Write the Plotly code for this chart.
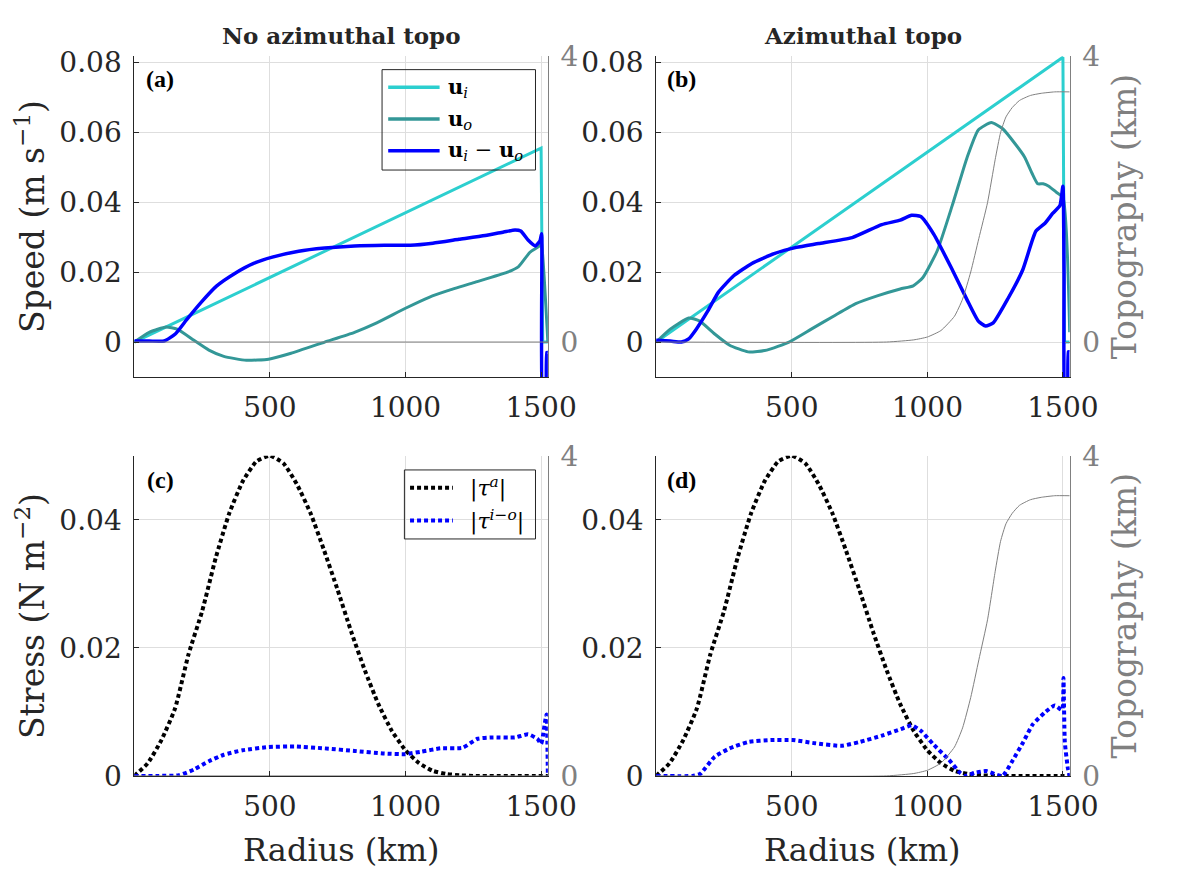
import plotly.graph_objects as go

# ---------------- data (radius in km) ----------------
# (a) no azimuthal topography: speeds in m/s
R_UI_FLAT = [0, 1500, 1506, 1525]
UI_FLAT = [0.0, 0.0555, 0.0, 0.0]

R_UO_FLAT = [0, 55, 117, 158, 220, 275, 330, 413, 495, 578, 702, 812, 894, 998,
             1087, 1156, 1252, 1376, 1417, 1459, 1493, 1500, 1525]
UO_FLAT = [0.0, 0.0028, 0.0043, 0.0037, 0.0005, -0.0023, -0.0041, -0.0052, -0.0049,
           -0.0032, 0.0, 0.0028, 0.0055, 0.0096, 0.0128, 0.0147, 0.0170, 0.0200,
           0.0216, 0.0257, 0.0275, 0.0290, 0.0]

R_DU_FLAT = [0, 55, 110, 151, 193, 248, 303, 372, 440, 509, 606, 702, 812, 922, 1018,
             1101, 1197, 1294, 1362, 1404, 1425, 1452, 1479, 1496, 1502, 1507, 1516,
             1521, 1525]
DU_FLAT = [0.0003, 0.0003, 0.0003, 0.0023, 0.0064, 0.0115, 0.0160, 0.0197, 0.0225,
           0.0243, 0.0260, 0.0269, 0.0275, 0.0277, 0.0277, 0.0283, 0.0294, 0.0305,
           0.0315, 0.0321, 0.0318, 0.0292, 0.0275, 0.0290, 0.0310, -0.0200, -0.0200,
           -0.0030, -0.0030]

# (b) azimuthal topography: speeds in m/s
R_UI_TOPO = [0, 1500, 1506, 1525]
UI_TOPO = [0.0, 0.0815, 0.0, 0.0]

R_UO_TOPO = [0, 52, 120, 161, 216, 271, 339, 408, 490, 572, 654, 736, 818, 900, 948,
             983, 1037, 1092, 1147, 1188, 1236, 1277, 1325, 1359, 1386, 1407, 1427,
             1448, 1475, 1500, 1525]
UO_TOPO = [0.0, 0.0037, 0.0069, 0.0060, 0.0023, -0.0009, -0.0028, -0.0023, 0.0,
           0.0037, 0.0074, 0.0110, 0.0133, 0.0152, 0.0161, 0.0184, 0.0262, 0.0391,
           0.0529, 0.0607, 0.0628, 0.0611, 0.0566, 0.0529, 0.0483, 0.0453, 0.0453,
           0.0446, 0.0429, 0.0414, 0.0028]

R_DU_TOPO = [0, 52, 93, 120, 148, 189, 230, 285, 353, 435, 517, 599, 723, 832, 900,
             942, 976, 1024, 1092, 1147, 1188, 1215, 1243, 1297, 1352, 1400, 1434,
             1462, 1489, 1500, 1504, 1509, 1516, 1520, 1525]
DU_TOPO = [0.0005, 0.0003, 0.0, 0.0009, 0.0037, 0.0087, 0.0143, 0.0189, 0.0225,
           0.0253, 0.0271, 0.0282, 0.0299, 0.0336, 0.0349, 0.0363, 0.0359, 0.0308,
           0.0207, 0.0120, 0.0060, 0.0046, 0.0055, 0.0124, 0.0207, 0.0317, 0.0340,
           0.0368, 0.0391, 0.0446, 0.0200, -0.0200, -0.0200, -0.0028, -0.0028]

# topography (km)
R_TOPO_FLAT = [0, 1525]
TOPO_FLAT = [0.0, 0.0]

R_TOPO = [0, 850, 950, 1000, 1050, 1100, 1130, 1160, 1190, 1222, 1250, 1270, 1290,
          1313, 1340, 1380, 1420, 1470, 1525]
TOPO = [0.0, 0.0, 0.03, 0.07, 0.16, 0.36, 0.60, 0.98, 1.45, 1.95, 2.55, 2.93, 3.15,
        3.28, 3.38, 3.45, 3.48, 3.50, 3.50]

# stresses (N/m^2)
R_TAU_A = [0, 50, 100, 150, 200, 250, 300, 350, 400, 450, 500, 550, 600, 650, 700,
           750, 800, 850, 900, 950, 1000, 1050, 1100, 1150, 1200, 1250, 1525]
TAU_A = [0.0, 0.0020, 0.0056, 0.0105, 0.0190, 0.0257, 0.0340, 0.0410, 0.0460, 0.0491,
         0.0500, 0.0488, 0.0455, 0.0410, 0.0352, 0.0290, 0.0225, 0.0165, 0.0112,
         0.0070, 0.0040, 0.0020, 0.0008, 0.0003, 0.0001, 0.0, 0.0]

R_TAU_IO_FLAT = [0, 83, 165, 220, 275, 330, 399, 495, 592, 702, 812, 922, 998, 1060,
                 1128, 1211, 1266, 1321, 1404, 1452, 1486, 1500, 1507, 1514, 1520, 1525]
TAU_IO_FLAT = [0.0, 0.0, 0.0001, 0.0010, 0.0023, 0.0033, 0.0040, 0.0045, 0.0046,
               0.0043, 0.0039, 0.0035, 0.0034, 0.0038, 0.0043, 0.0044, 0.0058, 0.0060,
               0.0060, 0.0065, 0.0058, 0.0050, 0.0063, 0.0083, 0.0096, 0.0]

R_TAU_IO_TOPO = [0, 134, 162, 216, 271, 340, 422, 504, 586, 682, 751, 833, 902, 943,
                 977, 1025, 1080, 1121, 1141, 1176, 1217, 1258, 1278, 1313, 1354, 1388,
                 1436, 1470, 1497, 1502, 1507, 1518, 1525]
TAU_IO_TOPO = [0.0, 0.0, 0.0003, 0.0030, 0.0043, 0.0053, 0.0056, 0.0056, 0.0051,
               0.0047, 0.0053, 0.0063, 0.0073, 0.0079, 0.0070, 0.0048, 0.0025, 0.0005,
               0.0, 0.0005, 0.00075, 0.00015, 0.0, 0.0023, 0.0053, 0.0080, 0.0100,
               0.0110, 0.0103, 0.0153, 0.0053, 0.0013, 0.0]

X_TICKS = [500, 1000, 1500]
X_TICK_TEXT = ["500", "1000", "1500"]
SPEED_TICKS = [0, 0.02, 0.04, 0.06, 0.08]
SPEED_TICK_TEXT = ["0", "0.02", "0.04", "0.06", "0.08"]
STRESS_TICKS = [0, 0.02, 0.04]
STRESS_TICK_TEXT = ["0", "0.02", "0.04"]
TOPO_TICKS = [0, 4]
TOPO_TICK_TEXT = ["0", "4"]

# ---------------- styling ----------------
W, H = 1178, 886
INK = "#262626"
GREY = "#808080"
GRID = "#dedede"
CYAN = "#2ccfcf"
TEAL = "#339797"
BLUE = "#0000ff"
SERIF = "DejaVu Serif"
BOLD_SERIF = "Liberation Serif"

X_RANGE = [0, 1525]
SPEED_RANGE = [-0.01, 0.0818]
TOPO_RANGE_TOP = [-0.49, 4]
STRESS_RANGE = [0, 0.05]
TOPO_RANGE_BOTTOM = [0, 4]


def fx(px):
    return px / W


def fy(py):
    return 1 - py / H


COL = [[fx(137.7), fx(561.7)], [fx(672.7), fx(1096.7)]]
ROW = [[fy(375), fy(41.7)], [fy(789.3), fy(456.7)]]

fig = go.Figure()

# panel -> (x axis, left y axis, right y axis, column, row)
panels = [("x", "y", "y2", 0, 0), ("x2", "y3", "y4", 1, 0),
          ("x3", "y5", "y6", 0, 1), ("x4", "y7", "y8", 1, 1)]


def line(x, y, xa, ya, color, width, dash="solid", shape="spline"):
    fig.add_trace(go.Scatter(
        x=x, y=y, xaxis=xa, yaxis=ya, mode="lines", showlegend=False,
        line=dict(color=color, width=width, dash=dash, shape=shape,
                  smoothing=0.5 if shape == "spline" else None),
        hoverinfo="skip"))


DOT = "4px,3px"

# topography (right axes)
line(R_TOPO_FLAT, TOPO_FLAT, "x", "y2", GREY, 1, shape="linear")
line(R_TOPO, TOPO, "x2", "y4", GREY, 1)
line(R_TOPO_FLAT, TOPO_FLAT, "x3", "y6", GREY, 1, shape="linear")
line(R_TOPO, TOPO, "x4", "y8", GREY, 1)

# speeds
line(R_UI_FLAT, UI_FLAT, "x", "y", CYAN, 3, shape="linear")
line(R_UO_FLAT, UO_FLAT, "x", "y", TEAL, 3)
line(R_DU_FLAT, DU_FLAT, "x", "y", BLUE, 3.5)
line(R_UI_TOPO, UI_TOPO, "x2", "y3", CYAN, 3, shape="linear")
line(R_UO_TOPO, UO_TOPO, "x2", "y3", TEAL, 3)
line(R_DU_TOPO, DU_TOPO, "x2", "y3", BLUE, 3.5)

# stresses
line(R_TAU_A, TAU_A, "x3", "y5", "#000000", 4, dash=DOT)
line(R_TAU_IO_FLAT, TAU_IO_FLAT, "x3", "y5", BLUE, 4, dash=DOT)
line(R_TAU_A, TAU_A, "x4", "y7", "#000000", 4, dash=DOT)
line(R_TAU_IO_TOPO, TAU_IO_TOPO, "x4", "y7", BLUE, 4, dash=DOT)

tick_font = dict(family=SERIF, size=28, color=INK)
grey_font = dict(family=SERIF, size=28, color=GREY)

layout = dict(width=W, height=H, margin=dict(l=0, r=0, t=0, b=0),
              paper_bgcolor="white", plot_bgcolor="white", showlegend=False,
              font=dict(family=SERIF, color=INK))

for xa, ya, yr, c, r in panels:
    xkey = "xaxis" if xa == "x" else "xaxis" + xa[1:]
    ykey = "yaxis" if ya == "y" else "yaxis" + ya[1:]
    rkey = "yaxis" + yr[1:]
    top = r == 0
    layout[xkey] = dict(domain=COL[c], anchor=ya, range=X_RANGE,
                        tickvals=X_TICKS, ticktext=X_TICK_TEXT,
                        showline=True, linecolor=INK, linewidth=1,
                        ticks="inside", ticklen=5, tickcolor=INK,
                        showgrid=True, gridcolor=GRID, gridwidth=1,
                        zeroline=False, tickfont=tick_font,
                        ticklabelstandoff=5)
    layout[ykey] = dict(domain=ROW[r], anchor=xa,
                        range=SPEED_RANGE if top else STRESS_RANGE,
                        tickvals=SPEED_TICKS if top else STRESS_TICKS,
                        ticktext=SPEED_TICK_TEXT if top else STRESS_TICK_TEXT,
                        showline=True, linecolor=INK, linewidth=1,
                        ticks="inside", ticklen=5, tickcolor=INK,
                        showgrid=True, gridcolor=GRID, gridwidth=1,
                        zeroline=False, tickfont=tick_font,
                        ticklabelstandoff=6)
    layout[rkey] = dict(overlaying=ya, side="right", anchor=xa,
                        range=TOPO_RANGE_TOP if top else TOPO_RANGE_BOTTOM,
                        tickvals=TOPO_TICKS, ticktext=TOPO_TICK_TEXT,
                        showline=True, linecolor=GREY, linewidth=1,
                        ticks="inside", ticklen=5, tickcolor=GREY,
                        showgrid=False, zeroline=False, tickfont=grey_font,
                        ticklabelstandoff=6)

fig.update_layout(**layout)

annotations = []


def text(x, y, s, size, family=SERIF, color=INK, angle=0, xanchor="center"):
    annotations.append(dict(x=fx(x), y=fy(y), xref="paper", yref="paper",
                            text=s, showarrow=False, textangle=angle,
                            xanchor=xanchor, yanchor="middle",
                            font=dict(family=family, size=size, color=color)))


# column titles
text(349.7, 20, "<b>No azimuthal topo</b>", 23)
text(884.7, 20, "<b>Azimuthal topo</b>", 23)
# panel letters
for lbl, x, y in [("(a)", 164.5, 65), ("(b)", 699, 65), ("(c)", 164.5, 482), ("(d)", 699, 482)]:
    text(x, y, "<b>%s</b>" % lbl, 24, family=BOLD_SERIF, color="#000000")
# axis titles
text(32, 208.5, "Speed (m s<sup>−1</sup>)", 33, angle=-90)
text(32, 623, "Stress (N m<sup>−2</sup>)", 33, angle=-90)
text(1153, 208.5, "Topography (km)", 33, color=GREY, angle=-90)
text(1153, 623, "Topography (km)", 33, color=GREY, angle=-90)
text(349.7, 866, "Radius (km)", 32)
text(884.7, 866, "Radius (km)", 32)

# legends (transparent boxes, as the grid shows through)
shapes = []


def box(x0, y0, x1, y1):
    shapes.append(dict(type="rect", xref="paper", yref="paper", x0=fx(x0), x1=fx(x1),
                       y0=fy(y1), y1=fy(y0), line=dict(color=INK, width=1),
                       fillcolor="rgba(0,0,0,0)", layer="above"))


def sample(x0, x1, y, color, width, dash="solid"):
    shapes.append(dict(type="line", xref="paper", yref="paper", x0=fx(x0), x1=fx(x1),
                       y0=fy(y), y1=fy(y), line=dict(color=color, width=width, dash=dash),
                       layer="above"))


box(391.7, 55.7, 549, 160)
for yy, col, lbl in [(74, CYAN, "<b>u</b><sub><i>i</i></sub>"),
                     (107, TEAL, "<b>u</b><sub><i>o</i></sub>"),
                     (140, BLUE, "<b>u</b><sub><i>i</i></sub> − <b>u</b><sub><i>o</i></sub>")]:
    sample(398, 450.7, yy, col, 3.5)
    text(457, yy, lbl, 21, color="#000000", xanchor="left")

box(414.6, 471.5, 549, 543.2)
for yy, col, lbl in [(490, "#000000", "|<i>τ</i><sup><i>a</i></sup>|"),
                     (524, BLUE, "|<i>τ</i><sup><i>i−o</i></sup>|")]:
    sample(420.4, 464.3, yy, col, 4, DOT)
    text(479.6, yy, lbl, 22, color="#000000", xanchor="left")

fig.update_layout(annotations=annotations, shapes=shapes)
fig.write_html("out.html")
